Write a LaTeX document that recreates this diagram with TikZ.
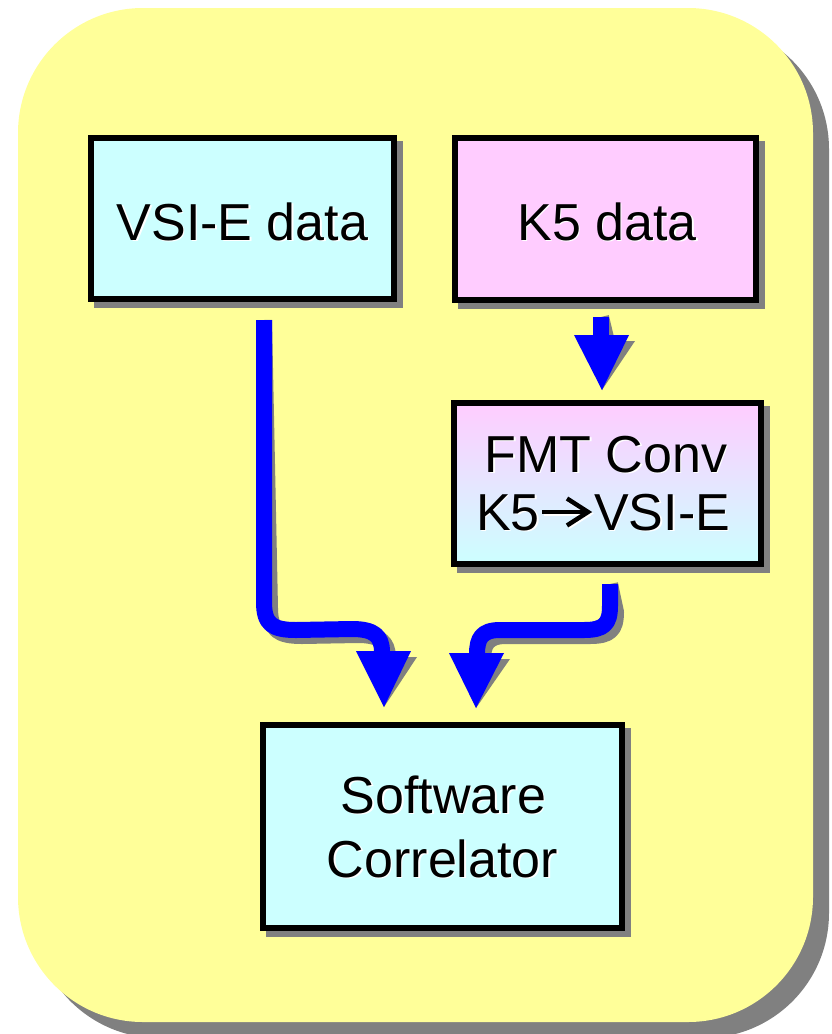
\documentclass[tikz,border=0pt]{standalone}
\usepackage{fontspec}
\setmainfont{Liberation Sans}
\usetikzlibrary{calc}
\definecolor{panelyellow}{RGB}{255,255,153}
\definecolor{boxcyan}{RGB}{204,255,255}
\definecolor{boxpink}{RGB}{255,204,255}
\definecolor{shadowgray}{RGB}{128,128,128}
\definecolor{flowblue}{RGB}{0,0,255}
\tikzset{
  stepbox/.style={draw=black, line width=6pt, rectangle, inner sep=0pt},
  boxshadow/.style={fill=shadowgray},
  shaft/.style={line width=16pt, line cap=butt, line join=round},
  labeltext/.style={inner sep=0pt, font=\fontsize{52}{60}\selectfont},
  glyphline/.style={line width=4.5pt, line cap=butt, line join=miter}
}
% text with a thin white offset highlight behind it
\newcommand\embossed[5][base]{%
  \node[labeltext, anchor=#1, text=white] at (#3+1.5,#4+1.5) {#5};
  \node[labeltext, anchor=#1, text=black] (#2) at (#3,#4) {#5};}
% small arrow inside a label
\newcommand\textarrow[3]{%
  \begin{scope}[shift={(#1,#2)}]
    \draw[glyphline, #3] (0,0) -- (47,0);
    \draw[glyphline, #3] (25,-13.5) -- (46,0) -- (25,13.5);
  \end{scope}}
\newcommand\dropshadow[1]{%
  \fill[boxshadow] ([shift={(6,6)}]#1.north west) rectangle ([shift={(6,6)}]#1.south east);}
\begin{document}
\begin{tikzpicture}[x=1pt,y=-1pt]
\useasboundingbox (0,0) rectangle (832,1034);
\clip (0,0) rectangle (832,1034);

% background panel with its shadow
\fill[shadowgray, rounded corners=125pt] (34,24) rectangle (829,1038);
\fill[panelyellow, rounded corners=125pt] (18,8) rectangle (813,1022);

% box outlines (named), their shadows, then the filled boxes
\path node[stepbox, minimum width=303pt, minimum height=161pt] (vsi) at (242.5,218.5) {}
      node[stepbox, minimum width=301pt, minimum height=162pt] (k5) at (605.5,219) {}
      node[stepbox, minimum width=307pt, minimum height=161pt] (fmt) at (607.5,483.5) {}
      node[stepbox, minimum width=359pt, minimum height=203pt] (corr) at (442.5,826.5) {};
\dropshadow{vsi}
\dropshadow{k5}
\dropshadow{fmt}
\dropshadow{corr}
\node[stepbox, fill=boxcyan, minimum width=303pt, minimum height=161pt] at (vsi) {};
\node[stepbox, fill=boxpink, minimum width=301pt, minimum height=162pt] at (k5) {};
\node[stepbox, top color=boxpink, bottom color=boxcyan, minimum width=307pt, minimum height=161pt] at (fmt) {};
\node[stepbox, fill=boxcyan, minimum width=359pt, minimum height=203pt] at (corr) {};

% labels
\embossed{vsiT}{242.5}{240}{VSI-E data}
\embossed{k5T}{607}{240}{K5 data}
\embossed{fmtA}{606}{472}{FMT Conv}
\embossed[base east]{fmtB}{540}{530}{K5}
\textarrow{543.5}{513.5}{white}
\textarrow{542}{512}{black}
\embossed[base west]{fmtC}{594}{530}{VSI-E}
\embossed{corrA}{443.5}{813}{Software}
\embossed{corrB}{442.5}{877}{Correlator}

% connector end points
\coordinate (vsiOut) at ($(vsi.south)+(21.5,18)$);
\coordinate (leftIn) at (384,707);
\coordinate (k5Out) at (601,317);
\coordinate (fmtIn) at (602,390);
\coordinate (fmtOut) at (610,584);
\coordinate (rightIn) at (476,708);

% connector shadows
\begin{scope}[shift={(6,6)}, shadowgray]
  \draw[shaft] (vsiOut) -- (264,602) .. controls (264,624) and (272,630) .. (296,630)
     -- (352,629) .. controls (374,629) and (382,636) .. (382,652);
  \fill (356,651) -- (411,651) -- (leftIn) -- cycle;
  \draw[shaft] (k5Out) -- (601,336);
  \fill (574,335) -- (629,335) -- (fmtIn) -- cycle;
  \draw[shaft] (fmtOut) -- (610,606) .. controls (610,624) and (604,630) .. (584,630)
     -- (500,630) .. controls (482,630) and (477,638) .. (477,654);
  \fill (449,653) -- (504,653) -- (rightIn) -- cycle;
\end{scope}

% connectors
\begin{scope}[flowblue]
  \draw[shaft] (vsiOut) -- (264,602) .. controls (264,624) and (272,630) .. (296,630)
     -- (352,629) .. controls (374,629) and (382,636) .. (382,652);
  \fill (356,651) -- (411,651) -- (leftIn) -- cycle;
  \draw[shaft] (k5Out) -- (601,336);
  \fill (574,335) -- (629,335) -- (fmtIn) -- cycle;
  \draw[shaft] (fmtOut) -- (610,606) .. controls (610,624) and (604,630) .. (584,630)
     -- (500,630) .. controls (482,630) and (477,638) .. (477,654);
  \fill (449,653) -- (504,653) -- (rightIn) -- cycle;
\end{scope}
\end{tikzpicture}
\end{document}
